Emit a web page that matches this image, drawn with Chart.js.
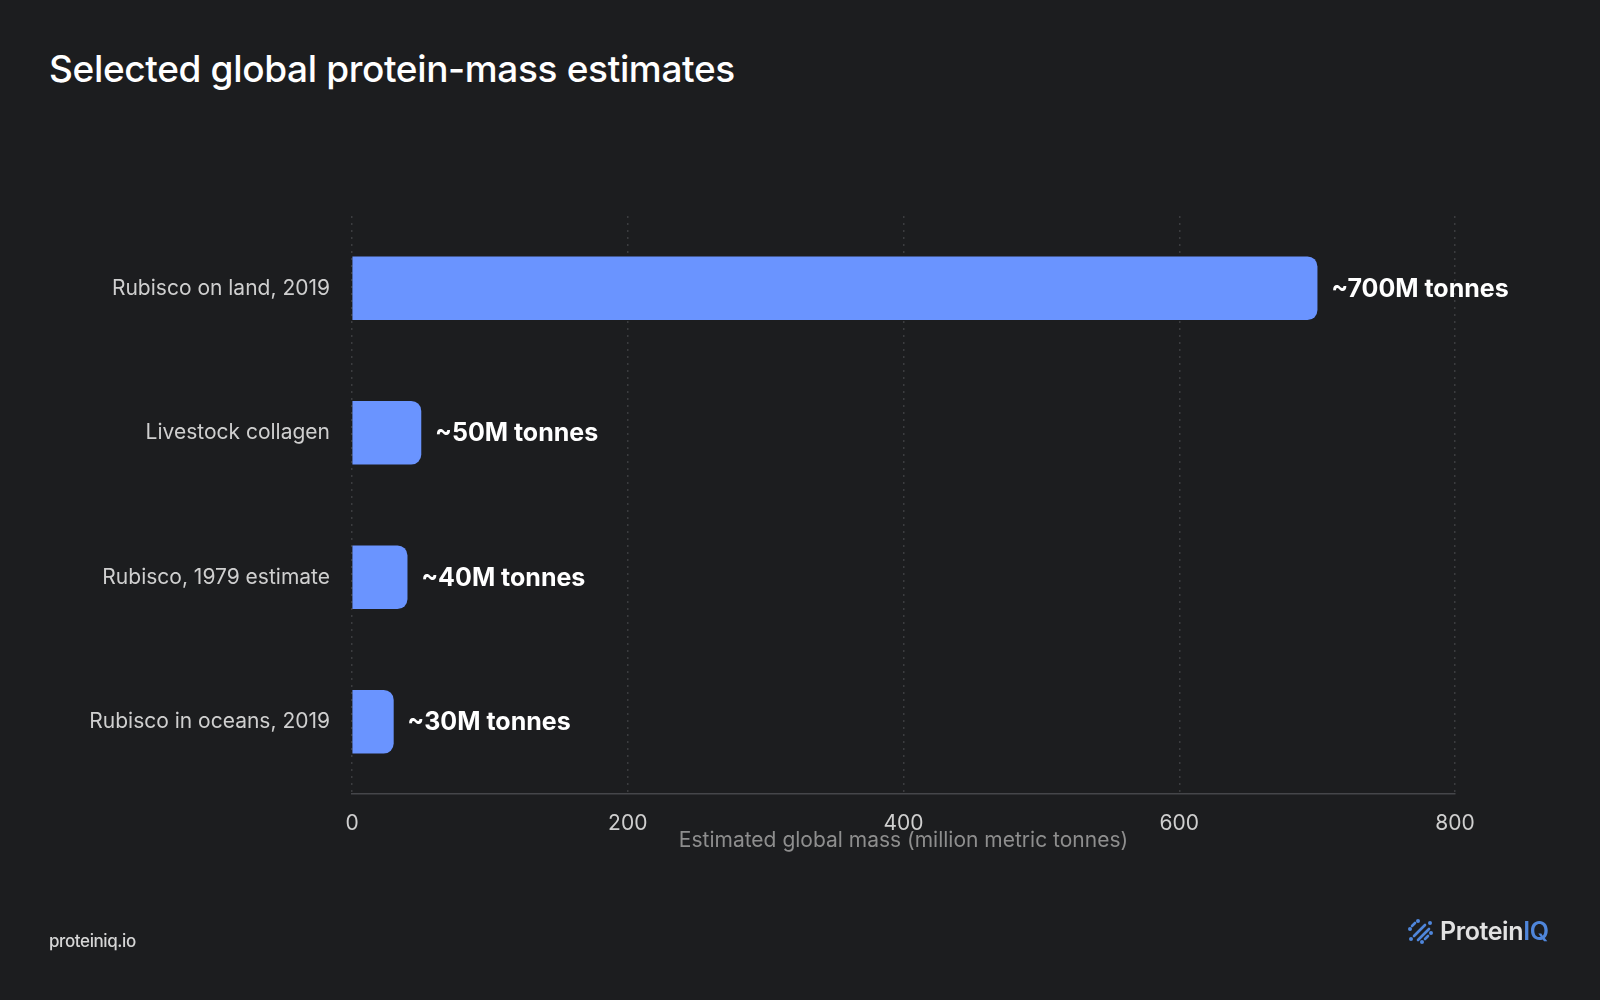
<!DOCTYPE html>
<html>
<head>
<meta charset="utf-8">
<script src="https://cdn.jsdelivr.net/npm/chart.js@4.4.0/dist/chart.umd.min.js"></script>
<style>
  html, body { margin: 0; padding: 0; background: #1c1d1f; }
  #wrap { position: relative; width: 1600px; height: 1000px; overflow: hidden; font-family: Inter, 'Noto Sans', sans-serif; }
  #title { position: absolute; left: 49px; top: 46px; font-size: 37px; font-weight: 500; letter-spacing: -0.35px; color: #ffffff; }
  #site { position: absolute; left: 49px; top: 931px; font-size: 17px; font-weight: 500; letter-spacing: -0.4px; color: #d6d6d6; }
  #brand { position: absolute; left: 1406px; top: 916px; display: flex; align-items: center; gap: 6px; font-size: 25px; font-weight: 600; letter-spacing: -0.4px; color: #e2e2e2; }
  #brand .iq { color: #4f86db; }
  canvas { position: absolute; left: 0; top: 0; }
</style>
</head>
<body>
<div id="wrap">
  <div id="title">Selected global protein-mass estimates</div>
  <canvas id="chart" width="1600" height="1000"></canvas>
  <div id="site">proteiniq.io</div>
  <div id="brand">
    <svg width="28" height="28" viewBox="0 0 28 28">
      <g stroke="#4f86db" stroke-width="2.6" stroke-linecap="round" fill="#4f86db">
        <line x1="6" y1="9" x2="9" y2="6"/>
        <line x1="8" y1="19" x2="19" y2="8"/>
        <line x1="12" y1="23" x2="23" y2="12"/>
        <line x1="19" y1="22" x2="22" y2="19"/>
        <circle cx="4" cy="12" r="2" stroke="none"/>
        <circle cx="12" cy="4" r="2" stroke="none"/>
        <circle cx="5" cy="22" r="2" stroke="none"/>
        <circle cx="24" cy="6" r="2" stroke="none"/>
        <circle cx="16" cy="25" r="2" stroke="none"/>
        <circle cx="25" cy="16" r="2" stroke="none"/>
      </g>
    </svg>
    <span>Protein<span class="iq">IQ</span></span>
  </div>
</div>
<script>
const categories = ["Rubisco on land, 2019", "Livestock collagen", "Rubisco, 1979 estimate", "Rubisco in oceans, 2019"];
const massValues = [700, 50, 40, 30];
const valueLabels = ["~700M tonnes", "~50M tonnes", "~40M tonnes", "~30M tonnes"];
const xTicks = [0, 200, 400, 600, 800];

const FONT = "Inter, 'Noto Sans', sans-serif";

// draws the "~700M tonnes" labels next to each bar end
const barLabels = {
  id: 'barLabels',
  afterDatasetsDraw(chart) {
    const ctx = chart.ctx;
    const meta = chart.getDatasetMeta(0);
    ctx.save();
    ctx.font = "bold 25px " + FONT;
    ctx.fillStyle = '#ffffff';
    ctx.textAlign = 'left';
    ctx.textBaseline = 'middle';
    meta.data.forEach((bar, i) => {
      ctx.fillText(valueLabels[i], bar.x + 14, bar.y + 1);
    });
    ctx.restore();
  }
};

new Chart(document.getElementById('chart'), {
  type: 'bar',
  data: {
    labels: categories,
    datasets: [{
      data: massValues,
      backgroundColor: '#6a94ff',
      borderRadius: 10,
      borderSkipped: 'start',
      barThickness: 63
    }]
  },
  options: {
    indexAxis: 'y',
    responsive: false,
    animation: false,
    devicePixelRatio: 1,
    layout: { padding: { top: 216, right: 145, bottom: 147, left: 0 } },
    plugins: {
      legend: { display: false },
      tooltip: { enabled: false },
      title: { display: false }
    },
    scales: {
      x: {
        min: 0,
        max: 800,
        afterBuildTicks: (scale) => { scale.ticks = xTicks.map(v => ({ value: v })); },
        afterFit: (scale) => { scale.height = 59; },
        grid: { color: '#3b3c3f', lineWidth: 1.5, drawTicks: false },
        border: { display: true, color: '#45464a', width: 1.5, dash: [2, 5] },
        ticks: { color: '#cfcfcf', font: { family: FONT, size: 21 }, padding: 17 },
        title: {
          display: true,
          text: 'Estimated global mass (million metric tonnes)',
          color: '#8e8e8e',
          font: { family: FONT, size: 21 },
          padding: 0
        }
      },
      y: {
        afterFit: (scale) => { scale.width = 352; },
        grid: { display: false },
        border: { display: false },
        ticks: { color: '#cfcfcf', font: { family: FONT, size: 21 }, padding: 14 }
      }
    }
  },
  plugins: [barLabels]
});
</script>
</body>
</html>
